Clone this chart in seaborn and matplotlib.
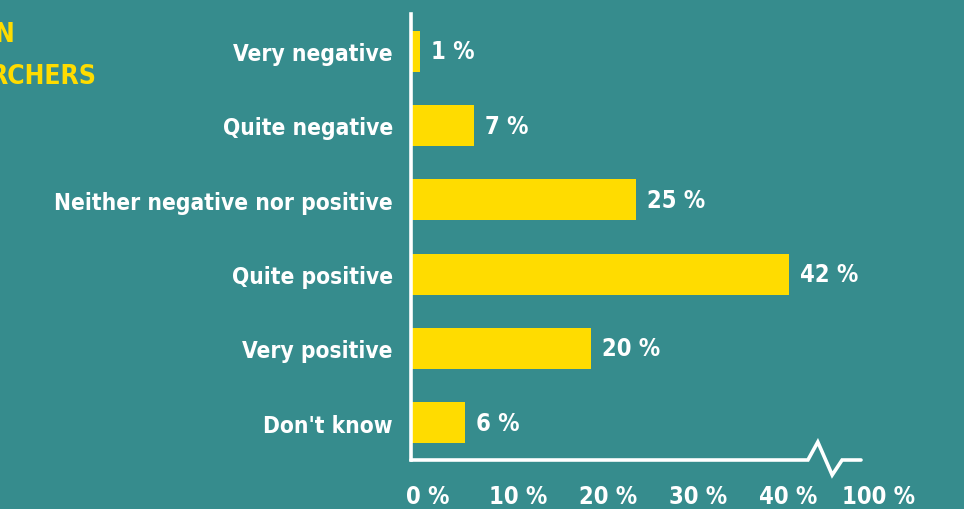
import matplotlib
matplotlib.use("Agg")
import matplotlib.pyplot as plt
import seaborn as sns

categories = ["Very negative", "Quite negative", "Neither negative nor positive",
              "Quite positive", "Very positive", "Don't know"]
shares = [1, 7, 25, 42, 20, 6]
tick_pos = [0, 10, 20, 30, 40, 50]
tick_labels = ["0 %", "10 %", "20 %", "30 %", "40 %", "100 %"]

YELLOW = "#FFDC00"
BG = "#368c8d"

sns.set_theme(style="white")
plt.rcParams["font.family"] = ["DejaVu Sans"]
plt.rcParams["font.stretch"] = "condensed"
plt.rcParams["font.weight"] = "bold"

FS = 16.3

fig = plt.figure(figsize=(9.64, 5.10), dpi=100, facecolor=BG)
ax = fig.add_axes([411 / 964, 49 / 510, 540 / 964, 446 / 510])
ax.set_facecolor("none")

sns.barplot(x=shares, y=categories, color=YELLOW, saturation=1, width=0.55,
            linewidth=0, ax=ax)
ax.set_xlim(0, 60)
ax.set_ylim(5.5, -0.5)
ax.set_xlabel("")
ax.set_ylabel("")

# left spine only, the bottom axis is drawn by hand with a break
for s in ["top", "right", "bottom"]:
    ax.spines[s].set_visible(False)
ax.spines["left"].set_color("white")
ax.spines["left"].set_linewidth(2.6)

ax.set_xticks([])
ax.tick_params(axis="y", length=0, pad=13)
for lab in ax.get_yticklabels():
    lab.set_color("white")
    lab.set_fontsize(FS)
    lab.set_fontweight("bold")
    lab.set_fontstretch("condensed")

# axis line with break between 40 % and 100 %
px = 1 / 74.4
bx = [0, 44.1, 45.2, 46.8, 47.9, 50]
by = [5.5, 5.5, 5.5 - 18 * px, 5.5 + 15 * px, 5.5, 5.5]
ax.plot(bx, by, color="white", lw=2.6, clip_on=False, solid_joinstyle="miter")

for p, t in zip(tick_pos, tick_labels):
    ax.annotate(t, xy=(p, 0), xycoords=("data", "axes fraction"),
                xytext=(17, -36), textcoords="offset pixels",
                ha="center", va="center", color="white", fontsize=FS + 0.7,
                fontweight="bold", fontstretch="condensed", annotation_clip=False)

for i, v in enumerate(shares):
    ax.annotate(f"{v} %", xy=(v, i), xytext=(11, 0), textcoords="offset pixels",
                ha="left", va="center", color="white", fontsize=FS + 0.7,
                fontweight="bold", fontstretch="condensed")

# cropped title in the corner
fig.text(15 / 964, 1 - 35 / 510, "N", ha="right", va="center", color=YELLOW,
         fontsize=19, fontweight="bold", fontstretch="condensed")
fig.text(97 / 964, 1 - 77 / 510, "RCHERS", ha="right", va="center", color=YELLOW,
         fontsize=19, fontweight="bold", fontstretch="condensed")

fig.savefig("out.png", dpi=100, facecolor=BG)
plt.close(fig)
